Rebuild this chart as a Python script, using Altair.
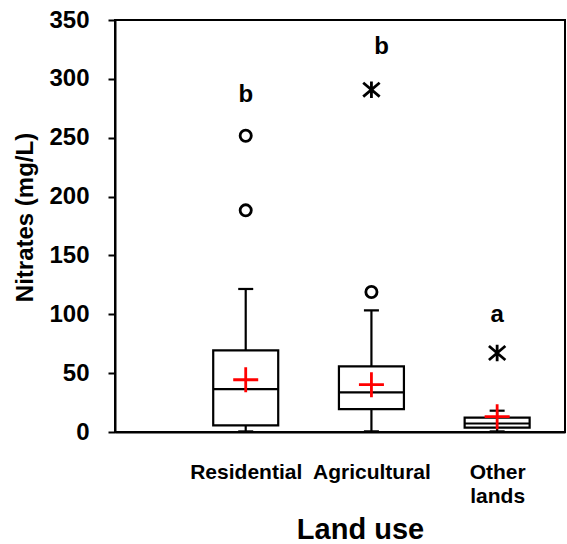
import json
import altair as alt
import pandas as pd

# ---- data ----
categories = ["Residential", "Agricultural", "Other lands"]
label_lines = [["Residential"], ["Agricultural"], ["Other", "lands"]]
positions = [1, 2, 3]
whisker_low = [0.5, 0.6, 0.5]
q1 = [5.6, 19.5, 3.8]
median = [36.5, 33.6, 7.2]
q3 = [69.3, 55.7, 12.2]
whisker_high = [121.5, 103.3, 18.1]
means = [44.4, 40.2, 13.0]

outlier_pos = [1, 1, 2]
outlier_val = [188.3, 251.7, 118.9]
extreme_pos = [2, 3]
extreme_val = [290.8, 67.1]

letters = ["b", "b", "a"]
letter_pos = [1, 2.08, 3]
letter_val = [286.5, 327.0, 99.7]

y_ticks = [0, 50, 100, 150, 200, 250, 300, 350]

FONT = "Liberation Sans"

box = pd.DataFrame({"pos": positions, "cat": categories, "low": whisker_low,
                    "q1": q1, "median": median, "q3": q3,
                    "high": whisker_high, "mean": means})
outl = pd.DataFrame({"pos": outlier_pos, "v": outlier_val})
extr = pd.DataFrame({"pos": extreme_pos, "v": extreme_val})
lett = pd.DataFrame({"pos": letter_pos, "v": letter_val, "t": letters})

label_expr = f"{json.dumps(label_lines)}[datum.value - 1]"

X = alt.X(
    "pos:Q",
    scale=alt.Scale(domain=[0, 3.5], nice=False, zero=False),
    axis=alt.Axis(
        values=positions, labelExpr=label_expr, ticks=False, grid=False,
        domain=True, domainColor="black", domainWidth=2,
        labelFont=FONT, labelFontSize=21, labelFontWeight="bold",
        labelColor="black", labelPadding=46, labelLineHeight=24,
        labelBaseline="alphabetic",
        title="Land use", titleFont=FONT, titleFontSize=29,
        titleFontWeight="bold", titleColor="black",
        titleX=245, titleY=106, titleAlign="center",
        titleBaseline="alphabetic",
    ),
)

def Y(field):
    return alt.Y(
        f"{field}:Q",
        scale=alt.Scale(domain=[0, 350], nice=False),
        axis=alt.Axis(
            values=y_ticks, grid=False, ticks=True, tickSize=7, tickWidth=2,
            tickColor="black", domain=True, domainColor="black", domainWidth=2,
            labelFont=FONT, labelFontSize=24, labelFontWeight="bold",
            labelColor="black", labelPadding=19,
            title="Nitrates (mg/L)", titleFont=FONT, titleFontSize=24,
            titleFontWeight="bold", titleColor="black",
            titleX=-90, titleY=197, titleAngle=-90, titleAlign="center",
            titleBaseline="middle",
        ),
    )

base = alt.Chart(box)

boxes = base.mark_bar(size=65, fill="white", stroke="black",
                      strokeWidth=2.2).encode(x=X, y=Y("q1"), y2="q3")
wl = base.mark_rule(color="black", strokeWidth=2.2).encode(x=X, y=Y("low"), y2="q1")
wh = base.mark_rule(color="black", strokeWidth=2.2).encode(x=X, y=Y("q3"), y2="high")
cap_lo = base.mark_tick(orient="horizontal", size=15, thickness=2.2,
                        color="black", opacity=1).encode(x=X, y=Y("low"))
cap_hi = base.mark_tick(orient="horizontal", size=15, thickness=2.2,
                        color="black", opacity=1).encode(x=X, y=Y("high"))
med = base.mark_tick(orient="horizontal", size=65, thickness=2.2,
                     color="black", opacity=1).encode(x=X, y=Y("median"))
mean_pt = base.mark_point(shape="M-1,0L1,0M0,-1L0,1", size=625, color="red",
                          strokeWidth=2.8, opacity=1,
                          filled=False).encode(x=X, y=Y("mean"))
circ = alt.Chart(outl).mark_point(shape="circle", size=125, color="black",
                                  strokeWidth=2.8, opacity=1,
                                  filled=False).encode(x=X, y=Y("v"))
star = alt.Chart(extr).mark_point(
    shape="M-1,-0.85L1,0.85M-1,0.85L1,-0.85M0,-1L0,1", size=270,
    color="black", strokeWidth=2.8, opacity=1, filled=False
).encode(x=X, y=Y("v"))
txt = alt.Chart(lett).mark_text(font=FONT, fontSize=24, fontWeight="bold",
                                color="black", baseline="middle",
                                align="center").encode(x=X, y=Y("v"), text="t:N")

chart = alt.layer(boxes, wl, wh, cap_lo, cap_hi, med, mean_pt, circ, star,
                  txt).properties(
    width=450, height=412,
    autosize=alt.AutoSizeParams(type="none"),
    padding={"left": 115, "top": 20, "right": 2, "bottom": 112},
    background="white",
).configure_view(stroke="black", strokeWidth=2)

chart.save("out.html", embed_options={"renderer": "svg", "actions": False})
